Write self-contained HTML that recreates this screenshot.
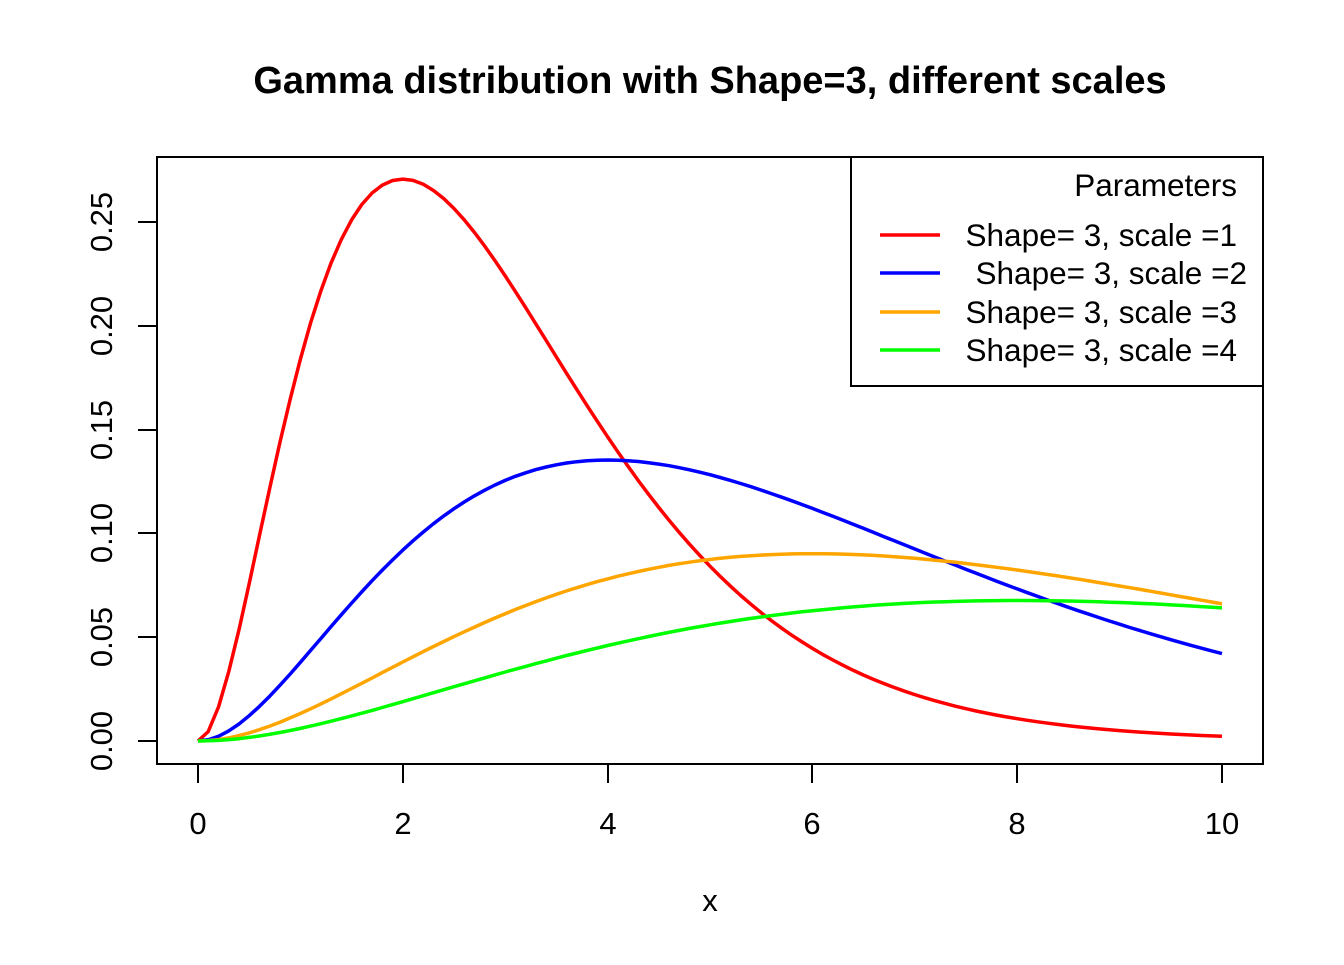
<!DOCTYPE html>
<html><head><meta charset="utf-8"><style>
html,body{margin:0;padding:0;background:#fff;}
svg text{font-family:"Liberation Sans",Arial,sans-serif;}
</style></head><body>
<svg id="s" width="1344" height="960" xmlns="http://www.w3.org/2000/svg">
<rect width="1344" height="960" fill="#fff"/>
<text x="710" y="93" font-size="38" font-weight="bold" text-anchor="middle">Gamma distribution with Shape=3, different scales</text>
<g stroke="#000" stroke-width="2" fill="none">
<rect x="157" y="157" width="1106" height="607"/>
<line x1="198" y1="764" x2="1222" y2="764"/>
<line x1="198" y1="764" x2="198" y2="783"/><line x1="403" y1="764" x2="403" y2="783"/>
<line x1="608" y1="764" x2="608" y2="783"/><line x1="812" y1="764" x2="812" y2="783"/>
<line x1="1017" y1="764" x2="1017" y2="783"/><line x1="1222" y1="764" x2="1222" y2="783"/>
<line x1="138" y1="741" x2="157" y2="741"/><line x1="138" y1="637" x2="157" y2="637"/>
<line x1="138" y1="533" x2="157" y2="533"/><line x1="138" y1="430" x2="157" y2="430"/>
<line x1="138" y1="326" x2="157" y2="326"/><line x1="138" y1="222" x2="157" y2="222"/>
</g>
<g font-size="31" text-anchor="middle">
<text x="198" y="834">0</text><text x="403" y="834">2</text><text x="608" y="834">4</text>
<text x="812" y="834">6</text><text x="1017" y="834">8</text><text x="1222" y="834">10</text>
<text x="710" y="911">x</text>
<text transform="translate(112,741) rotate(-90)">0.00</text>
<text transform="translate(112,637) rotate(-90)">0.05</text>
<text transform="translate(112,533) rotate(-90)">0.10</text>
<text transform="translate(112,430) rotate(-90)">0.15</text>
<text transform="translate(112,326) rotate(-90)">0.20</text>
<text transform="translate(112,222) rotate(-90)">0.25</text>
</g>
<g id="curves" fill="none" stroke-width="3.5" stroke-linejoin="round"></g>
<rect x="851" y="157" width="412" height="229" fill="#fff" stroke="#000" stroke-width="2"/>
<g font-size="31.5" text-anchor="end">
<text x="1237" y="196">Parameters</text>
<text x="1237" y="246">Shape= 3, scale =1</text>
<text x="1247" y="284"> Shape= 3, scale =2</text>
<text x="1237" y="323">Shape= 3, scale =3</text>
<text x="1237" y="361">Shape= 3, scale =4</text>
</g>
<g stroke-width="3.5">
<line x1="880" y1="235" x2="940" y2="235" stroke="#ff0000"/>
<line x1="880" y1="273" x2="940" y2="273" stroke="#0000ff"/>
<line x1="880" y1="312" x2="940" y2="312" stroke="#ffa500"/>
<line x1="880" y1="350" x2="940" y2="350" stroke="#00ff00"/>
</g>
</svg>
<script>
var cols=["#ff0000","#0000ff","#ffa500","#00ff00"],g=document.getElementById("curves"),ns="http://www.w3.org/2000/svg";
for(var s=1;s<=4;s++){var d="";for(var i=0;i<=100;i++){var x=i/10,f=x*x*Math.exp(-x/s)/(2*s*s*s);
var px=198+x*102.4,py=741-f*2076;d+=(i?"L":"M")+px.toFixed(1)+","+py.toFixed(1);}
var p=document.createElementNS(ns,"path");p.setAttribute("d",d);p.setAttribute("stroke",cols[s-1]);g.appendChild(p);}
</script>
</body></html>
